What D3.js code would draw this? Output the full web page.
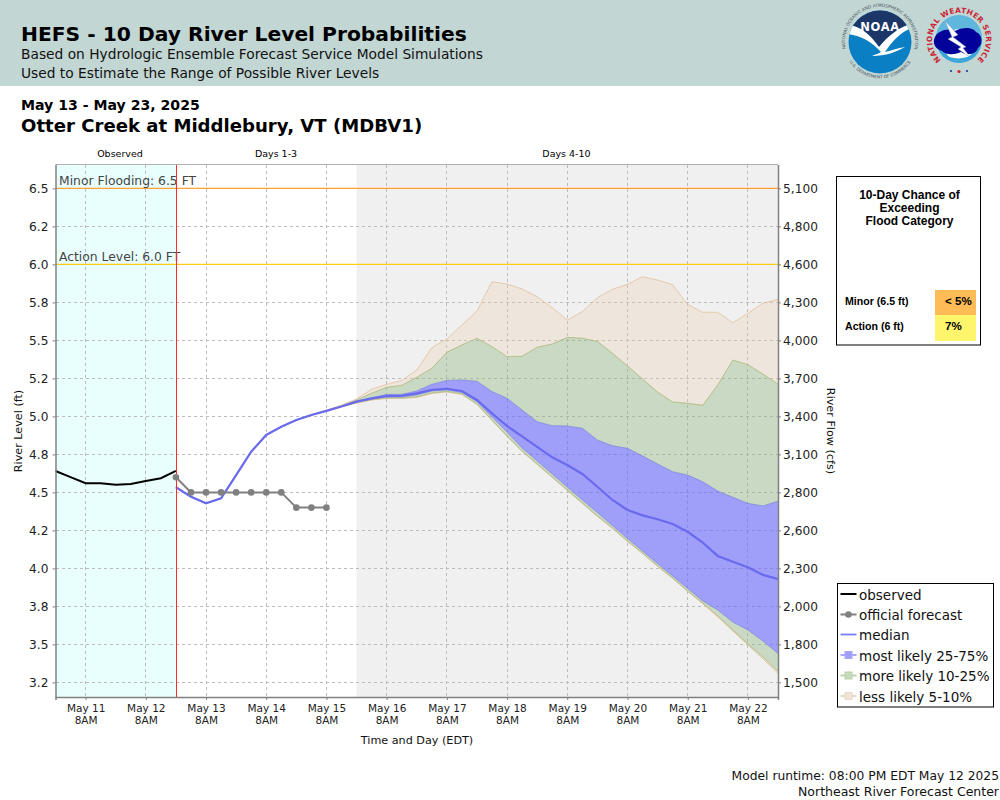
<!DOCTYPE html>
<html><head><meta charset="utf-8">
<script src="https://d3js.org/d3.v7.min.js"></script>
<style>
html,body{margin:0;padding:0;background:#fff}
svg{display:block}
text{font-family:"DejaVu Sans",sans-serif}
</style></head><body>
<svg id="c" width="1000" height="800"></svg>
<script>
const yTicks=[6.5,6.25,6,5.75,5.5,5.25,5,4.75,4.5,4.25,4,3.75,3.5,3.25];
const yLabels=["6.5","6.2","6.0","5.8","5.5","5.2","5.0","4.8","4.5","4.2","4.0","3.8","3.5","3.2"];
const flowLabels=["5,100","4,800","4,600","4,300","4,000","3,700","3,400","3,100","2,800","2,600","2,300","2,000","1,800","1,500"];
const dayLabels=["May 11","May 12","May 13","May 14","May 15","May 16","May 17","May 18","May 19","May 20","May 21","May 22"];
const observed=[4.641,4.60,4.56,4.56,4.55,4.555,4.575,4.593,4.641];
const official=[4.60,4.5,4.5,4.5,4.5,4.5,4.5,4.5,4.4,4.4,4.4];
const median=[4.534,4.472,4.428,4.461,4.614,4.768,4.878,4.932,4.976,5.009,5.036,5.065,5.097,5.119,5.134,5.136,5.152,5.174,5.182,5.167,5.108,5.020,4.937,4.868,4.799,4.731,4.680,4.621,4.537,4.45,4.384,4.349,4.323,4.292,4.241,4.169,4.082,4.044,4.007,3.957,3.930];
const q95=[4.534,4.472,4.428,4.461,4.614,4.768,4.878,4.932,4.978,5.012,5.042,5.075,5.114,5.178,5.211,5.237,5.305,5.452,5.509,5.601,5.693,5.886,5.871,5.838,5.787,5.715,5.634,5.689,5.781,5.836,5.869,5.919,5.897,5.866,5.737,5.685,5.685,5.616,5.678,5.744,5.770];
const q90=[4.534,4.472,4.428,4.461,4.614,4.768,4.878,4.932,4.976,5.009,5.036,5.07,5.108,5.152,5.191,5.205,5.257,5.316,5.422,5.470,5.514,5.459,5.393,5.396,5.455,5.476,5.520,5.514,5.494,5.415,5.332,5.246,5.160,5.095,5.086,5.073,5.207,5.371,5.340,5.279,5.211];
const q75=[4.534,4.472,4.428,4.461,4.614,4.768,4.878,4.932,4.976,5.009,5.036,5.065,5.10,5.121,5.145,5.145,5.167,5.211,5.237,5.240,5.231,5.163,5.119,5.042,4.965,4.939,4.937,4.922,4.845,4.807,4.790,4.740,4.687,4.636,4.614,4.570,4.509,4.468,4.428,4.411,4.442];
const q25=[4.534,4.472,4.428,4.461,4.614,4.768,4.878,4.932,4.976,5.009,5.036,5.065,5.094,5.114,5.128,5.128,5.141,5.167,5.174,5.157,5.097,4.996,4.897,4.792,4.707,4.621,4.535,4.450,4.368,4.282,4.197,4.114,4.032,3.950,3.868,3.786,3.726,3.647,3.595,3.522,3.440];
const q10=[4.534,4.472,4.428,4.461,4.614,4.768,4.878,4.932,4.976,5.009,5.036,5.065,5.09,5.11,5.121,5.121,5.128,5.154,5.164,5.147,5.082,4.976,4.871,4.772,4.687,4.601,4.516,4.430,4.345,4.266,4.180,4.101,4.016,3.937,3.851,3.772,3.687,3.595,3.503,3.417,3.322];
const q05=[4.534,4.472,4.428,4.461,4.614,4.768,4.878,4.932,4.976,5.009,5.036,5.065,5.087,5.107,5.118,5.118,5.125,5.151,5.161,5.144,5.079,4.973,4.868,4.769,4.684,4.598,4.513,4.427,4.342,4.263,4.177,4.098,4.013,3.934,3.848,3.768,3.680,3.588,3.496,3.405,3.308];
const legendLabels=["observed","official forecast","median","most likely 25-75%","more likely 10-25%","less likely 5-10%"];
const floodRows=["Minor (6.5 ft)","Action (6 ft)"];
const floodChances=["< 5%","7%"];
const floodLevels=[6.5,6.0];
const floodNames=["Minor Flooding: 6.5 FT","Action Level: 6.0 FT"];

const svg=d3.select("#c");
const L=55.5,R=778,T=164.5,B=697;
const t0=Date.UTC(2025,4,10,20),DAY=864e5;
const x=d3.scaleUtc().domain([t0,t0+12*DAY]).range([L,R]);
const y=d3.scaleLinear().domain([6.5+(188.4-T)/152,3.25-(B-682.4)/152]).range([T,B]);
const now=t0+2*DAY, grayStart=t0+5*DAY;
const tObs=i=>t0+i*6*36e5, tFc=i=>now+i*6*36e5;

// header band
svg.append("rect").attr("width",1000).attr("height",86).attr("fill","#c2d6d4");
const T1=(s,px,py,size,w,fill)=>svg.append("text").attr("x",px).attr("y",py).attr("font-size",size).attr("font-weight",w||"normal").attr("fill",fill||"#000").text(s);
T1("HEFS - 10 Day River Level Probabilities",21,41,20.25,"bold");
T1("Based on Hydrologic Ensemble Forecast Service Model Simulations",21,59,13.77,"normal","#111");
T1("Used to Estimate the Range of Possible River Levels",21,78,13.77,"normal","#111");
T1("May 13 - May 23, 2025",21,110,14.1,"bold");
T1("Otter Creek at Middlebury, VT (MDBV1)",21,132,18.1,"bold");
[["Observed",120],["Days 1-3",276],["Days 4-10",566.5]].forEach(d=>T1(d[0],d[1],157,9.5).attr("text-anchor","middle"));

// NOAA logo
const noaa=svg.append("g").attr("transform","translate(880,42)");
noaa.append("defs").html('<clipPath id="nc"><circle r="31.5"/></clipPath><path id="nr1" d="M-32,14 A35,35 0 1 1 32,14"/><path id="nr2" d="M-36,6 A36.5,36.5 0 0 0 36,6"/><path id="wr1" d="M-18,20 A27,27 0 1 1 18,20"/>');
const ng=noaa.append("g").attr("clip-path","url(#nc)");
ng.append("rect").attr("x",-32).attr("y",-32).attr("width",64).attr("height",64).attr("fill","#0a7fc4");
ng.append("path").attr("d","M-32,-32H32V-18C20,-16 8,-6 -1,5C-8,-5 -18,-16 -32,-17Z").attr("fill","#1c3668");
ng.append("path").attr("d","M-32,-17C-18,-16 -8,-5 -1,5C8,-6 20,-16 32,-18V-14C20,-10 12,0 5,10C10,9 18,6 25,5C16,10 6,14 -8,14C-4,12 -2,12 1,10C-8,0 -18,-6 -32,-8Z").attr("fill","#fff");
noaa.append("text").attr("y",-11).attr("text-anchor","middle").attr("font-size",11.5).attr("font-weight","bold").attr("fill","#fff").attr("letter-spacing",.6).text("NOAA");
noaa.append("text").attr("font-size",4.3).attr("fill","#4a5560").append("textPath").attr("href","#nr1").attr("startOffset","50%").attr("text-anchor","middle").text("NATIONAL OCEANIC AND ATMOSPHERIC ADMINISTRATION");
noaa.append("text").attr("font-size",4.3).attr("fill","#4a5560").append("textPath").attr("href","#nr2").attr("startOffset","50%").attr("text-anchor","middle").text("U.S. DEPARTMENT OF COMMERCE");

// NWS logo
const nws=svg.append("g").attr("transform","translate(959,40)");
nws.append("circle").attr("r",23).attr("fill","#3aa6d8");
nws.append("path").attr("d","M-23,-2A23,23 0 0 1 23,-2Z").attr("fill","#5fb7dd");
nws.append("ellipse").attr("rx",15).attr("ry",16).attr("cy",5).attr("fill","#fff").attr("opacity",.95);
nws.append("path").attr("d","M-24,-3C-27,3 -24,9 -17,11C-12,16 -2,14 2,12C8,16 18,14 19,8C24,5 24,-6 17,-8C13,-14 2,-12 -4,-9C-10,-13 -22,-9 -24,-3Z").attr("fill","#02029a");
nws.append("path").attr("d","M-14,-19L-1,-5L-6,-3L7,7L4,8L12,18L-1,9L2,7L-11,-1L-7,-3Z").attr("fill","#fff").attr("stroke","#8a93c0").attr("stroke-width",.5);
nws.append("path").attr("d","M-16,14C-7,20 7,20 16,13C11,23 -9,24 -16,14Z").attr("fill","#3aa6d8");
nws.append("text").attr("font-size",7.4).attr("font-weight","bold").attr("fill","#cc2233").attr("letter-spacing",.3).append("textPath").attr("href","#wr1").attr("startOffset","50%").attr("text-anchor","middle").text("NATIONAL WEATHER SERVICE");
[[-8,31],[0,31.5],[8,31]].forEach((p,i)=>nws.append("circle").attr("cx",p[0]).attr("cy",p[1]).attr("r",i==1?1.6:1.1).attr("fill",i==1?"#cc2233":"#1a3a9a"));

// plot backgrounds
svg.append("rect").attr("x",L).attr("y",T).attr("width",x(now)-L).attr("height",B-T).attr("fill","#e9fffe");
svg.append("rect").attr("x",x(grayStart)).attr("y",T).attr("width",R-x(grayStart)).attr("height",B-T).attr("fill","#f0f0f0");

// grid
const tickTimes=dayLabels.map((d,i)=>t0+(i+0.5)*DAY);
const grid=svg.append("g").attr("stroke","#bcbcbc").attr("stroke-width",1).attr("stroke-dasharray","3,3").attr("fill","none").attr("shape-rendering","crispEdges");
tickTimes.forEach(t=>grid.append("line").attr("x1",x(t)).attr("x2",x(t)).attr("y1",T).attr("y2",B));
yTicks.forEach(v=>grid.append("line").attr("x1",L).attr("x2",R).attr("y1",y(v)).attr("y2",y(v)));

// bands
const band=(hi,lo,fill,stroke)=>{
  const a=d3.area().x((d,i)=>x(tFc(i))).y0((d,i)=>y(lo[i])).y1((d,i)=>y(hi[i]));
  svg.append("path").attr("d",a(median)).attr("fill",fill);
  const l=arr=>d3.line().x((d,i)=>x(tFc(i))).y(d=>y(d))(arr);
  [hi,lo].forEach(arr=>svg.append("path").attr("d",l(arr)).attr("fill","none").attr("stroke",stroke).attr("stroke-width",1));
};
const TAN="rgba(235,210,180,0.3)",GRN="rgba(142,183,127,0.4)",BLU="rgba(100,100,255,0.58)";
band(q95,q90,TAN,"rgba(225,190,150,0.75)");
band(q10,q05,TAN,"rgba(225,190,150,0.75)");
band(q90,q75,GRN,"rgba(142,190,120,0.4)");
band(q25,q10,GRN,"rgba(142,190,120,0.4)");
band(q75,q25,BLU,"rgba(120,120,250,0.45)");

// flood lines
const fc=["#ffa033","#ffcc11"];
floodLevels.forEach((v,i)=>{
  svg.append("line").attr("x1",L).attr("x2",R).attr("y1",y(v)).attr("y2",y(v)).attr("stroke",fc[i]).attr("stroke-width",1.2);
  T1(floodNames[i],59,y(v)-3,12.35,"normal","#444");
});

// series
const lineO=d3.line().x((d,i)=>x(tObs(i))).y(d=>y(d));
const lineF=d3.line().x((d,i)=>x(tFc(i))).y(d=>y(d));
svg.append("path").attr("d",lineF(median)).attr("fill","none").attr("stroke","#6a6aef").attr("stroke-width",2.2);
svg.append("line").attr("x1",x(now)+.5).attr("x2",x(now)+.5).attr("y1",T).attr("y2",B).attr("stroke","#ff2a2a").attr("stroke-width",1).attr("shape-rendering","crispEdges");
svg.append("path").attr("d",lineO(observed)).attr("fill","none").attr("stroke","#000").attr("stroke-width",2);
svg.append("path").attr("d",lineF(official)).attr("fill","none").attr("stroke","#808080").attr("stroke-width",2);
svg.selectAll("circle.o").data(official).join("circle").attr("class","o").attr("cx",(d,i)=>x(tFc(i))).attr("cy",d=>y(d)).attr("r",3.3).attr("fill","#808080");

// frame & axes
const gray="#808080";
const styleAxis=g=>{g.selectAll(".domain").attr("stroke",gray).attr("stroke-width",1.5);g.selectAll(".tick line").attr("stroke",gray);g.selectAll("text").attr("fill","#222").style("font-family",'"DejaVu Sans",sans-serif');};
svg.append("line").attr("x1",L).attr("x2",R).attr("y1",T).attr("y2",T).attr("stroke","#b0b0b0").attr("stroke-width",1);
const ax=svg.append("g").attr("transform",`translate(0,${B})`).call(d3.axisBottom(x).tickValues(tickTimes).tickSizeOuter(0).tickSize(3).tickPadding(5).tickFormat((d,i)=>dayLabels[i]));
ax.selectAll("text").attr("font-size",10.5);
ax.selectAll(".tick").append("text").attr("y",19.5).attr("dy",".71em").attr("font-size",10.5).attr("text-anchor","middle").text("8AM");
styleAxis(ax);
const ayL=svg.append("g").attr("transform",`translate(${L},0)`).call(d3.axisLeft(y).tickValues(yTicks).tickSize(3).tickSizeOuter(0).tickPadding(4).tickFormat((d,i)=>yLabels[i]));
ayL.selectAll("text").attr("font-size",12.2);styleAxis(ayL);
const ayR=svg.append("g").attr("transform",`translate(${R},0)`).call(d3.axisRight(y).tickValues(yTicks).tickSize(3).tickSizeOuter(0).tickPadding(2).tickFormat((d,i)=>flowLabels[i]));
ayR.selectAll("text").attr("font-size",12.2);styleAxis(ayR);

T1("Time and Day (EDT)",417,744,11.2,"normal","#111").attr("text-anchor","middle");
svg.append("text").attr("transform","translate(22,431) rotate(-90)").attr("text-anchor","middle").attr("font-size",11.2).attr("fill","#111").text("River Level (ft)");
svg.append("text").attr("transform","translate(827,431) rotate(90)").attr("text-anchor","middle").attr("font-size",11.2).attr("fill","#111").text("River Flow (cfs)");
T1("Model runtime: 08:00 PM EDT May 12 2025",999,780,12.3,"normal","#111").attr("text-anchor","end");
T1("Northeast River Forecast Center",999,796,12.5,"normal","#111").attr("text-anchor","end");

// flood-chance box
const ff='"Liberation Sans",Arial,sans-serif';
svg.append("rect").attr("x",836.5).attr("y",176.5).attr("width",144).attr("height",168.5).attr("fill","#fff").attr("stroke","#000");
["10-Day Chance of","Exceeding","Flood Category"].forEach((s,i)=>T1(s,909.5,199+i*13,12,"bold").style("font-family",ff).attr("text-anchor","middle"));
const cellC=["#ffbb55","#fff56d"],cellY=[290,315],cellH=[25,26];
floodRows.forEach((s,i)=>{
  svg.append("rect").attr("x",935).attr("y",cellY[i]).attr("width",41).attr("height",cellH[i]).attr("fill",cellC[i]);
  T1(s,845,305+i*25,10.6,"bold").style("font-family",ff);
  T1(floodChances[i],945,305+i*25,11.6,"bold").style("font-family",ff);
});

// legend
svg.append("rect").attr("x",837.5).attr("y",583.5).attr("width",156).attr("height",123.5).attr("fill","#fff").attr("stroke","#000");
const ly=[594,614.5,634.5,655,675.5,696];
const lineC=["#000","#808080","#7c7cf5","#a8a8fa","#b8d4a8","#ecd8c2"],boxC=[null,null,null,"#9f9ff9","#c9d9bf","#efe4d8"],w=[2,2,1.8,2,2,2];
legendLabels.forEach((s,i)=>{
  svg.append("line").attr("x1",840.5).attr("x2",856.5).attr("y1",ly[i]).attr("y2",ly[i]).attr("stroke",lineC[i]).attr("stroke-width",w[i]);
  if(i==1)svg.append("circle").attr("cx",848.5).attr("cy",ly[i]).attr("r",3.3).attr("fill","#808080");
  if(boxC[i])svg.append("rect").attr("x",845).attr("y",ly[i]-3.5).attr("width",7).attr("height",7).attr("fill",boxC[i]).attr("stroke",lineC[i]);
  T1(s,859,ly[i]+5.5,13.5,"normal","#111");
});
</script></body></html>
